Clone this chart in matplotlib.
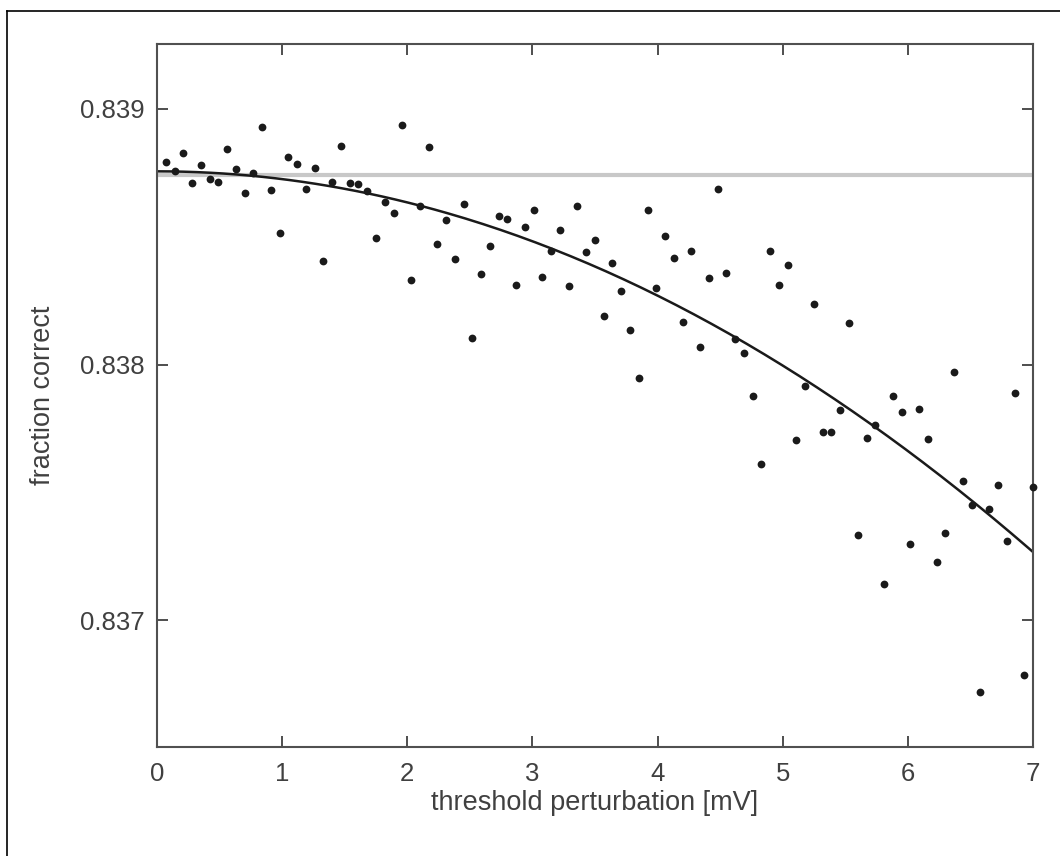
import numpy as np
from matplotlib import pyplot as plt
from matplotlib.lines import Line2D

# perturbation sizes [mV] and measured fraction correct
perturbation = np.round(np.arange(1, 101) * 0.07, 2)
frac_correct = [
    0.838793, 0.838756, 0.838828, 0.838709, 0.838781, 0.838725, 0.838713, 0.838845, 0.838764, 0.838672,
    0.838750, 0.838930, 0.838684, 0.838514, 0.838813, 0.838785, 0.838688, 0.838769, 0.838405, 0.838713,
    0.838854, 0.838709, 0.838705, 0.838680, 0.838494, 0.838637, 0.838593, 0.838937, 0.838330, 0.838620,
    0.838852, 0.838473, 0.838564, 0.838413, 0.838628, 0.838105, 0.838353, 0.838464, 0.838580, 0.838568,
    0.838312, 0.838539, 0.838605, 0.838344, 0.838444, 0.838528, 0.838308, 0.838620, 0.838440, 0.838488,
    0.838189, 0.838396, 0.838288, 0.838136, 0.837949, 0.838605, 0.838301, 0.838504, 0.838416, 0.838165,
    0.838444, 0.838068, 0.838340, 0.838688, 0.838360, 0.838101, 0.838045, 0.837877, 0.837609, 0.838444,
    0.838312, 0.838388, 0.837705, 0.837917, 0.838237, 0.837737, 0.837737, 0.837821, 0.838164, 0.837333,
    0.837713, 0.837764, 0.837141, 0.837877, 0.837813, 0.837297, 0.837825, 0.837708, 0.837226, 0.837341,
    0.837969, 0.837545, 0.837449, 0.836717, 0.837433, 0.837529, 0.837309, 0.837889, 0.836785, 0.837521,
]
baseline = 0.838742      # unperturbed performance
fit_coef = [0.838756, -3.04e-5]   # a + b*x^2

x_ticks = [0, 1, 2, 3, 4, 5, 6, 7]
y_ticks = [0.837, 0.838, 0.839]

txt = '#404040'
plt.rcParams['font.family'] = ['Liberation Sans', 'DejaVu Sans']

fig = plt.figure(figsize=(10.6, 8.56), dpi=100)
ax = fig.add_axes([0.1481, 0.1279, 0.8264, 0.8203])

ax.axhline(baseline, color='#c8c8c8', lw=3, zorder=1)
xf = np.linspace(0, 7, 200)
ax.plot(xf, fit_coef[0] + fit_coef[1] * xf**2, color='#1a1a1a', lw=1.8, zorder=2)
ax.plot(perturbation, frac_correct, 'o', color='#1a1a1a', ms=5.6, mew=0, zorder=3, clip_on=False)

ax.set_xlim(0, 7)
ax.set_ylim(0.836505, 0.839253)
ax.set_xticks(x_ticks)
ax.set_yticks(y_ticks)
ax.set_yticklabels(['0.837', '0.838', '0.839'])
ax.tick_params(direction='in', length=8, width=1.3, colors=txt, labelsize=18.5,
               top=True, right=True)
ax.tick_params(axis='x', pad=11)
ax.tick_params(axis='y', pad=9)
for s in ax.spines.values():
    s.set_color('#505050')
    s.set_linewidth(1.5)

ax.set_xlabel('threshold perturbation [mV]', fontsize=19.5, color=txt, labelpad=3)
ax.set_ylabel('fraction correct', fontsize=19.5, color=txt, labelpad=17)

# frame lines at the top and left of the figure
fx, fy = 7 / 1060, 1 - 11 / 856
fig.add_artist(Line2D([fx, fx], [0, fy], transform=fig.transFigure, color='black', lw=1.2))
fig.add_artist(Line2D([fx, 1], [fy, fy], transform=fig.transFigure, color='black', lw=1.2))

fig.savefig('out.png', dpi=100)
